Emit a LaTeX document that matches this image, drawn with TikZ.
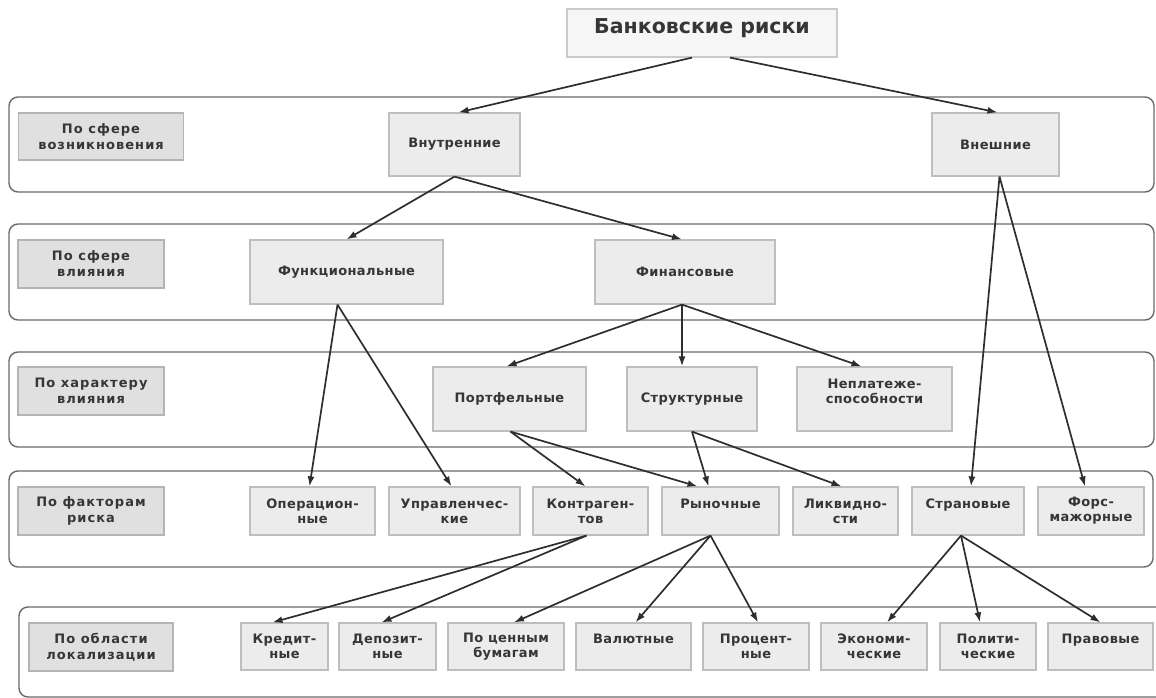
\documentclass[tikz,border=0pt]{standalone}
\usepackage{fontspec}
\setmainfont{DejaVu Sans}
\usetikzlibrary{arrows.meta}
\definecolor{boxfill}{HTML}{ECECEC}
\definecolor{boxline}{HTML}{BEBEBE}
\definecolor{lblfill}{HTML}{E0E0E0}
\definecolor{lblline}{HTML}{B4B4B4}
\definecolor{rootfill}{HTML}{F6F6F6}
\definecolor{layerline}{HTML}{6A6A6A}
\definecolor{textcol}{HTML}{363636}
\definecolor{arrcol}{HTML}{2E2E2E}

\begin{document}
\begin{tikzpicture}[x=1pt, y=-1pt,
    layer/.style={draw=layerline, line width=1.4pt, rounded corners=9pt},
    box/.style={draw=boxline, fill=boxfill, line width=1.2pt, align=center, inner sep=0pt,
      text=textcol, font=\bfseries\fontsize{13}{15}\selectfont\addfontfeature{LetterSpace=3}, minimum height=48pt},
    lbl/.style={box, draw=lblline, fill=lblfill, font=\bfseries\fontsize{13}{16}\selectfont\addfontfeature{LetterSpace=8}},
    arr/.style={-{Latex[length=10pt,width=7pt]}, draw=arrcol, line width=1.7pt}
  ]
    \useasboundingbox (0,0) rectangle (1156,698);

    \draw[layer] (9,97) rectangle (1154,192);
    \draw[layer] (9,224) rectangle (1154,320);
    \draw[layer] (9,352) rectangle (1154,447);
    \draw[layer] (9,471) rectangle (1153,567);
    \draw[layer] (19,607) rectangle (1180,697);

    \node[box, fill=rootfill, draw=boxline!80, minimum width=270pt, text height=14pt, text depth=12pt,
      font=\bfseries\fontsize{20.5}{24}\selectfont] (root) at (702,33) {Банковские риски};

    % labels of the levels
    \node[lbl, minimum width=165pt, minimum height=47pt] (L1) at (101,136.5) {По сфере\\возникновения};
    \node[lbl, minimum width=146pt] (L2) at (91,264) {По сфере\\влияния};
    \node[lbl, minimum width=146pt] (L3) at (91,391) {По характеру\\влияния};
    \node[lbl, minimum width=146pt] (L4) at (91,511) {По факторам\\риска};
    \node[lbl, minimum width=144pt] (L5) at (101,647) {По области\\локализации};

    \node[box, minimum width=131pt, minimum height=63pt] (int) at (454.5,144.5) {Внутренние};
    \node[box, minimum width=127pt, minimum height=63pt] (ext) at (995.5,144.5) {Внешние};

    \node[box, minimum width=193pt, minimum height=64pt] (func) at (346.5,272) {Функциональные};
    \node[box, minimum width=180pt, minimum height=64pt] (fin) at (685,272) {Финансовые};

    \node[box, minimum width=153pt, minimum height=64pt] (port) at (509.5,399) {Портфельные};
    \node[box, minimum width=130pt, minimum height=64pt] (struct) at (692,399) {Структурные};
    \node[box, minimum width=155pt, minimum height=64pt] (insolv) at (874.5,399) {Неплатеже-\\способности\\\mbox{}};

    \node[box, minimum width=125pt] (oper) at (312.5,511) {Операцион-\\ные};
    \node[box, minimum width=131pt] (manag) at (454.5,511) {Управленчес-\\кие};
    \node[box, minimum width=115pt] (contr) at (590.5,511) {Контраген-\\тов};
    \node[box, minimum width=117pt] (market) at (720.5,511) {Рыночные\\\mbox{}};
    \node[box, minimum width=105pt] (liquid) at (845.5,511) {Ликвидно-\\сти};
    \node[box, minimum width=112pt] (country) at (968,511) {Страновые\\\mbox{}};
    \node[box, minimum width=106pt] (force) at (1091,511) {Форс-\\мажорные};

    \node[box, minimum width=87pt, minimum height=47pt] (credit) at (284.5,646.5) {Кредит-\\ные};
    \node[box, minimum width=97pt, minimum height=47pt] (depos) at (387.5,646.5) {Депозит-\\ные};
    \node[box, minimum width=116pt, minimum height=47pt] (secur) at (506,646.5) {По ценным\\бумагам};
    \node[box, minimum width=115pt, minimum height=47pt] (curr) at (633.5,646.5) {Валютные\\\mbox{}};
    \node[box, minimum width=106pt, minimum height=47pt] (rate) at (756,646.5) {Процент-\\ные};
    \node[box, minimum width=106pt, minimum height=47pt] (econ) at (874,646.5) {Экономи-\\ческие};
    \node[box, minimum width=96pt, minimum height=47pt] (polit) at (988,646.5) {Полити-\\ческие};
    \node[box, minimum width=105pt, minimum height=47pt] (legal) at (1100.5,646.5) {Правовые\\\mbox{}};

    \draw[arr] ([xshift=-10pt]root.south) -- ([xshift=4pt]int.north);
    \draw[arr] ([xshift=28pt]root.south) -- ([xshift=2pt]ext.north);

    \draw[arr] (int.south) -- (func.north);
    \draw[arr] (int.south) -- ([xshift=-3pt]fin.north);
    \draw[arr] ([xshift=4pt]ext.south) -- ([xshift=3pt]country.north);
    \draw[arr] ([xshift=4pt]ext.south) -- ([xshift=-6pt]force.north);

    \draw[arr] ([xshift=-9pt]func.south) -- ([xshift=-3pt]oper.north);
    \draw[arr] ([xshift=-9pt]func.south) -- ([xshift=-3pt]manag.north);

    \draw[arr] ([xshift=-3pt]fin.south) -- ([xshift=-3pt]port.north);
    \draw[arr] ([xshift=-3pt]fin.south) -- ([xshift=-10pt]struct.north);
    \draw[arr] ([xshift=-3pt]fin.south) -- ([xshift=-13pt]insolv.north);

    \draw[arr] ([xshift=1pt]port.south) -- ([xshift=-5pt]contr.north);
    \draw[arr] ([xshift=1pt]port.south) -- ([xshift=-23pt]market.north);
    \draw[arr] (struct.south) -- ([xshift=-12pt]market.north);
    \draw[arr] (struct.south) -- ([xshift=-4pt]liquid.north);

    \draw[arr] ([xshift=-4pt]contr.south) -- ([xshift=-12pt]credit.north);
    \draw[arr] ([xshift=-4pt]contr.south) -- ([xshift=-6pt]depos.north);
    \draw[arr] ([xshift=-10pt]market.south) -- ([xshift=8pt]secur.north);
    \draw[arr] ([xshift=-10pt]market.south) -- ([xshift=2pt]curr.north);
    \draw[arr] ([xshift=-10pt]market.south) -- ([xshift=2pt]rate.north);
    \draw[arr] ([xshift=-7pt]country.south) -- ([xshift=13pt]econ.north);
    \draw[arr] ([xshift=-7pt]country.south) -- ([xshift=-8pt]polit.north);
    \draw[arr] ([xshift=-7pt]country.south) -- (legal.north);
  \end{tikzpicture}
\end{document}
